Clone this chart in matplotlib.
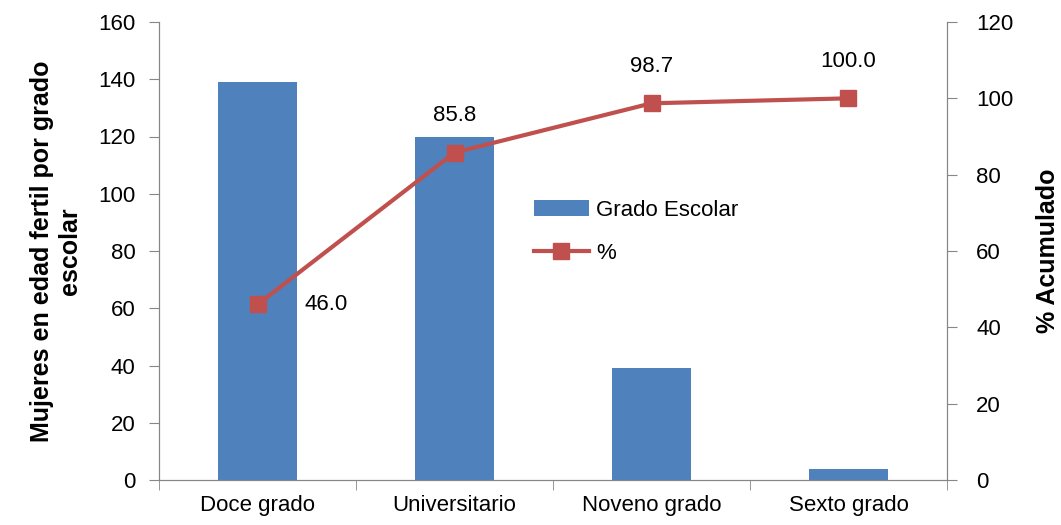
import matplotlib.pyplot as plt
import numpy as np

categorias = ['Doce grado', 'Universitario', 'Noveno grado', 'Sexto grado']
mujeres = [139, 120, 39, 4]
acumulado = [46.0, 85.8, 98.7, 100.0]

plt.rcParams['font.family'] = ['Liberation Sans', 'DejaVu Sans']

azul = '#4F81BD'
rojo = '#C0504D'
gris = '#868686'

fig = plt.figure(figsize=(10.61, 5.25), dpi=100)
ax = fig.add_axes([0.150, 0.0857, 0.7425, 0.8724])
ax2 = ax.twinx()

x = np.arange(len(categorias))
barras = ax.bar(x, mujeres, width=0.4, color=azul, label='Grado Escolar', zorder=2)
linea, = ax2.plot(x, acumulado, color=rojo, lw=3, marker='s', ms=12,
                  label='%', zorder=3)

for xi, v in zip(x, acumulado):
    if xi == 0:
        ax2.text(xi + 0.24, v, f'{v:.1f}', ha='left', va='center', fontsize=16)
    else:
        ax2.text(xi, v + 7, f'{v:.1f}', ha='center', va='bottom', fontsize=16)

ax.set_xlim(-0.5, len(categorias) - 0.5)
ax.set_ylim(0, 160)
ax.set_yticks(range(0, 161, 20))
ax2.set_ylim(0, 120)
ax2.set_yticks(range(0, 121, 20))

ax.set_xticks(x)
ax.set_xticklabels(categorias, fontsize=16)
ax.set_xticks(np.arange(-0.5, len(categorias), 1), minor=True)
ax.tick_params(axis='x', which='major', length=0, pad=11)
ax.tick_params(axis='x', which='minor', length=7, color=gris, direction='out')
ax.tick_params(axis='y', labelsize=16, length=7, color=gris, pad=10)
ax2.tick_params(axis='y', labelsize=16, length=7, color=gris, pad=14)

for a in (ax, ax2):
    a.spines['top'].set_visible(False)
    for s in ('left', 'right', 'bottom'):
        a.spines[s].set_color(gris)

ax.set_ylabel('Mujeres en edad fertil por grado\nescolar', fontsize=18,
              fontweight='bold', labelpad=12)
ax2.set_ylabel('% Acumulado', fontsize=18, fontweight='bold', labelpad=16)

ax.legend([barras, linea], ['Grado Escolar', '%'], loc='upper left',
          bbox_to_anchor=(0.45, 0.655), frameon=False, fontsize=16,
          handlelength=2.5, labelspacing=1.0, handletextpad=0.3)

fig.savefig('out.png', dpi=100)
